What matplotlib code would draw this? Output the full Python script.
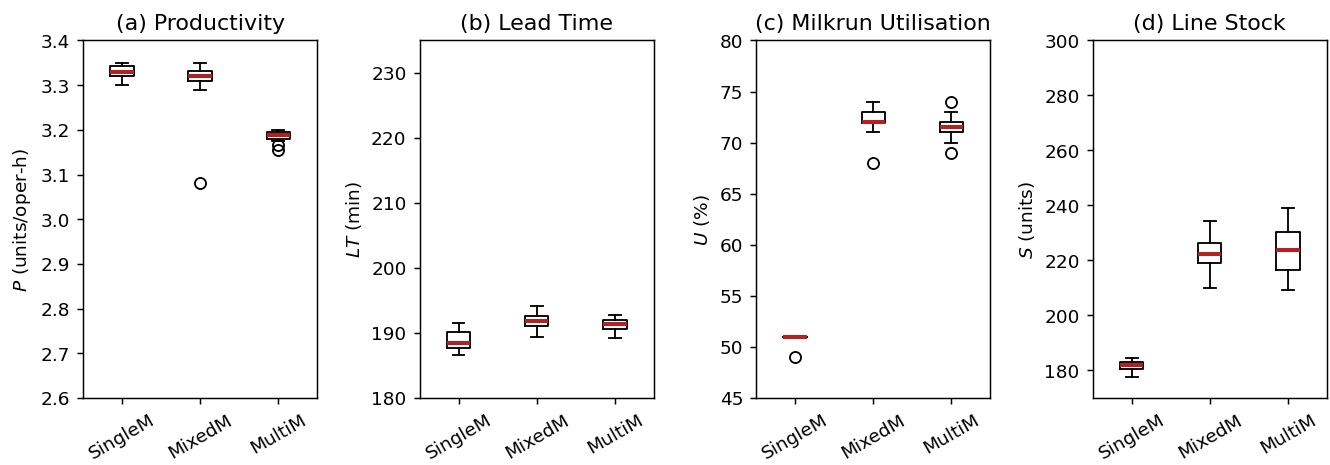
import matplotlib.pyplot as plt

# scenarios
labels = ['SingleM', 'MixedM', 'MultiM']

# box stats: whislo, q1, med, q3, whishi, fliers
prod_lo = [3.30, 3.29, 3.175]
prod_q1 = [3.32, 3.31, 3.18]
prod_med = [3.33, 3.32, 3.189]
prod_q3 = [3.342, 3.331, 3.195]
prod_hi = [3.35, 3.35, 3.20]
prod_fl = [[], [3.08], [3.165, 3.155]]

lt_lo = [186.6, 189.4, 189.3]
lt_q1 = [187.7, 191.0, 190.6]
lt_med = [188.4, 191.8, 191.4]
lt_q3 = [190.1, 192.6, 192.0]
lt_hi = [191.5, 194.1, 192.8]
lt_fl = [[], [], []]

u_lo = [51, 71.0, 70.0]
u_q1 = [51, 71.9, 71.0]
u_med = [51, 72.05, 71.5]
u_q3 = [51, 73.0, 72.0]
u_hi = [51, 74.0, 73.0]
u_fl = [[49], [68], [74, 69]]

s_lo = [177.8, 209.9, 209.1]
s_q1 = [180.6, 218.9, 216.5]
s_med = [182.1, 222.5, 223.9]
s_q3 = [183.2, 226.5, 230.3]
s_hi = [184.6, 234.2, 239.2]
s_fl = [[], [], []]

panels = [
    ('(a) Productivity', '$P$ (units/oper-h)', (prod_lo, prod_q1, prod_med, prod_q3, prod_hi, prod_fl),
     (2.6, 3.4), [2.6, 2.7, 2.8, 2.9, 3.0, 3.1, 3.2, 3.3, 3.4]),
    ('(b) Lead Time', '$LT$ (min)', (lt_lo, lt_q1, lt_med, lt_q3, lt_hi, lt_fl),
     (180, 235), [180, 190, 200, 210, 220, 230]),
    ('(c) Milkrun Utilisation', '$U$ (%)', (u_lo, u_q1, u_med, u_q3, u_hi, u_fl),
     (45, 80), [45, 50, 55, 60, 65, 70, 75, 80]),
    ('(d) Line Stock', '$S$ (units)', (s_lo, s_q1, s_med, s_q3, s_hi, s_fl),
     (170, 300), [180, 200, 220, 240, 260, 280, 300]),
]

fig, axes = plt.subplots(1, 4, figsize=(10, 3.5), dpi=133)
fig.subplots_adjust(left=0.0624, right=0.9977, top=0.912, bottom=0.144, wspace=0.436)

for ax, (title, ylab, st, ylim, yt) in zip(axes, panels):
    lo, q1, med, q3, hi, fl = st
    stats = []
    for i, lab in enumerate(labels):
        stats.append({'label': lab, 'whislo': lo[i], 'q1': q1[i], 'med': med[i],
                      'q3': q3[i], 'whishi': hi[i], 'fliers': fl[i]})
    ax.bxp(stats, widths=0.3,
           medianprops={'color': 'firebrick', 'linewidth': 2.2},
           boxprops={'color': 'black'},
           flierprops={'marker': 'o', 'markerfacecolor': 'none', 'markeredgecolor': 'black'})
    ax.set_title(title)
    ax.set_ylabel(ylab)
    ax.set_ylim(*ylim)
    ax.set_yticks(yt)
    ax.set_xlim(0.5, 3.5)
    ax.tick_params(axis='x', labelrotation=30)

fig.savefig('out.png', dpi=133)
